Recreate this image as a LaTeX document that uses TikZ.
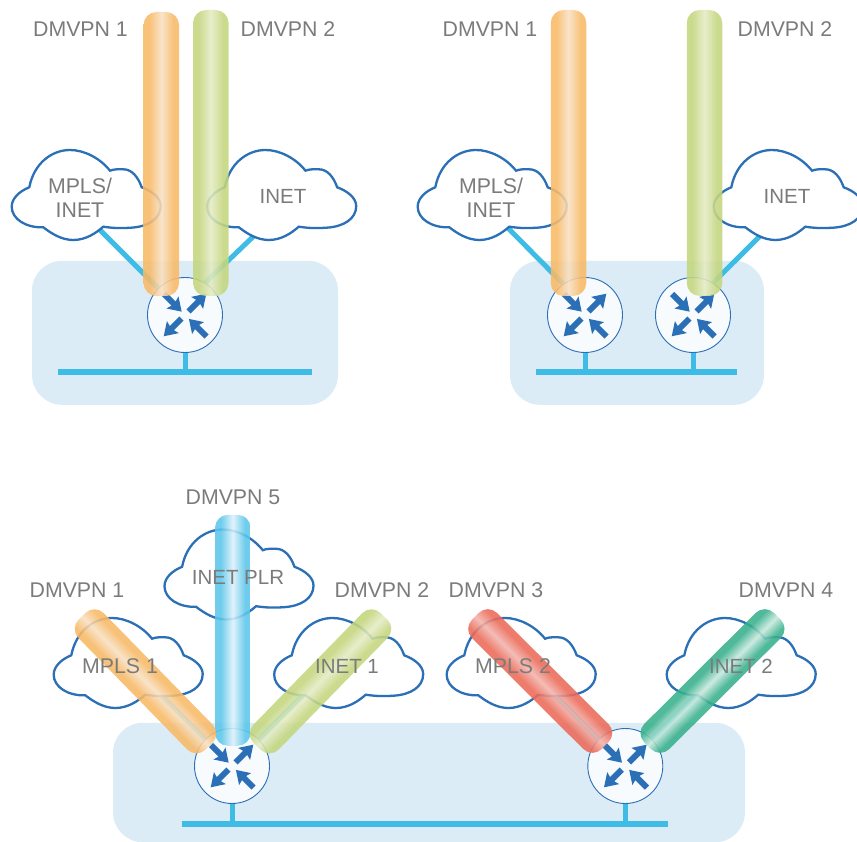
\documentclass[tikz,border=0pt]{standalone}
\usepackage{fontspec}
\setmainfont{Liberation Sans}
\definecolor{panelblue}{HTML}{DBECF6}
\definecolor{linkblue}{HTML}{3EBCE6}
\definecolor{cloudblue}{HTML}{2B6FB7}
\definecolor{routerfill}{HTML}{F8FBFD}
\definecolor{labelgray}{HTML}{7B7B7B}
\definecolor{orangeE}{HTML}{F8B966}
\definecolor{orangeM}{HTML}{F8E0C2}
\definecolor{greenE}{HTML}{C4D67E}
\definecolor{greenM}{HTML}{E4EBC4}
\definecolor{blueE}{HTML}{5CC6EA}
\definecolor{blueM}{HTML}{DDF1FA}
\definecolor{redE}{HTML}{EC6A58}
\definecolor{redM}{HTML}{F2B4AC}
\definecolor{tealE}{HTML}{38B08C}
\definecolor{tealM}{HTML}{C6E8DC}
\newcommand{\tubeshading}[1]{%
  \pgfdeclareverticalshading{tube#1}{100bp}{%
    color(0bp)=(#1E); color(25bp)=(#1E); color(33bp)=(#1E); color(50bp)=(#1M);
    color(67bp)=(#1E); color(75bp)=(#1E); color(100bp)=(#1E)}}
\tubeshading{orange}
\tubeshading{green}
\tubeshading{blue}
\tubeshading{red}
\tubeshading{teal}
\tikzset{
  panelbox/.style={draw=none,fill=panelblue,rectangle,rounded corners=30pt,inner sep=0pt},
  router/.style={circle,draw=cloudblue,line width=0.9pt,fill=routerfill,minimum size=75pt,inner sep=0pt},
  link/.style={draw=linkblue,line width=5pt},
  bus/.style={draw=linkblue,line width=6pt},
  lab/.style={text=labelgray,font=\fontsize{20.5}{24}\selectfont,inner sep=0pt,align=center},
  labwide/.style={lab,font=\fontsize{21.3}{24}\selectfont},
  tube/.style={rectangle,inner sep=0pt,minimum height=35.5pt,rounded corners=13pt,
     shading=tube#1,shading angle=0,opacity=0.88,draw=none},
  cloudshape/.pic={
    \path[draw=cloudblue,line width=2.3pt,fill=white]
     (-56.7,-7.7) .. controls (-52,-32) and (-34,-45) .. (-16,-45)
     .. controls (-2,-45) and (14,-37) .. (24,-24.3)
     .. controls (28,-26) and (32,-25.7) .. (37.3,-25.7)
     .. controls (46,-25.7) and (52,-18) .. (55.7,-7.7)
     .. controls (66,-4) and (74.7,3) .. (74.7,11)
     .. controls (74.7,24) and (62,31.7) .. (45,32.7)
     .. controls (35,33.3) and (28,33.3) .. (17.3,31.7)
     .. controls (10,38) and (0,45) .. (-12.7,45)
     .. controls (-24,45) and (-34,39) .. (-42.7,32.3)
     .. controls (-60,33) and (-74.3,24) .. (-74.3,11.7)
     .. controls (-74.3,3) and (-66,-4) .. (-56.7,-7.7) -- cycle;
  },
  arrowshape/.pic={
    \fill[cloudblue] (0,-3) -- (13.5,-3) -- (12,-8.5) -- (25,0) -- (12,8.5) -- (13.5,3) -- (0,3) -- cycle;
  },
  routerarrows/.pic={
    \pic[shift={(-21,-21)},rotate=-45] {arrowshape};
    \pic[shift={(3.6,-3.6)},rotate=45] {arrowshape};
    \pic[shift={(-3.6,3.6)},rotate=225] {arrowshape};
    \pic[shift={(21.6,21.6)},rotate=135] {arrowshape};
  },
}
% name, colour, length, centre x, centre y, angle
\newcommand{\tubepiece}[6]{%
  \begin{scope}[transform canvas={shift={(#4,#5)},rotate=#6}]
    \node[tube={#2},minimum width=#3pt] (#1) at (0,0) {};
  \end{scope}}
\begin{document}
\begin{tikzpicture}[x=1pt,y=-1pt]
\useasboundingbox (0,0) rectangle (857,842);
% panels
\node[panelbox,minimum width=306pt,minimum height=144pt] (p1) at (185,332.8) {};
\node[panelbox,minimum width=254pt,minimum height=144pt] (p2) at (637,332.8) {};
\node[panelbox,minimum width=632pt,minimum height=119.5pt] (p3) at (429,782.5) {};
% routers
\node[router] (r1) at (185,315) {};
\node[router] (r2) at (585,315) {};
\node[router] (r3) at (693,315) {};
\node[router] (r4) at (232,766) {};
\node[router] (r5) at (625.3,766) {};
% buses
\coordinate (b1l) at (58,372);  \coordinate (b1r) at (312,372);  \coordinate (b1s) at (185,372);
\coordinate (b2l) at (536,372); \coordinate (b2r) at (737,372);  \coordinate (b2s) at (585,372); \coordinate (b2t) at (693,372);
\coordinate (b3l) at (182,824); \coordinate (b3r) at (668,824);  \coordinate (b3s) at (232,824); \coordinate (b3t) at (625.3,824);
\draw[bus] (b1l) -- (b1r);
\draw[bus] (b2l) -- (b2r);
\draw[bus] (b3l) -- (b3r);
\draw[link] (r1) -- (b1s);
\draw[link] (r2) -- (b2s);
\draw[link] (r3) -- (b2t);
\draw[link] (r4) -- (b3s);
\draw[link] (r5) -- (b3t);
% cloud feet and links
\coordinate (f1) at (98,228);  \coordinate (f2) at (258,232);
\coordinate (f3) at (508,228); \coordinate (f4) at (762,234);
\coordinate (f5) at (152,686); \coordinate (f6) at (310,688);
\coordinate (f7) at (546,686); \coordinate (f8) at (703,688);
\draw[link] (f1) -- (r1);
\draw[link] (f2) -- (r1.58);
\draw[link] (f3) -- (r2.125);
\draw[link] (f4) -- (r3.58);
\draw[link] (f5) -- (r4);
\draw[link] (f6) -- (r4);
\draw[link] (f7) -- (r5);
\draw[link] (f8) -- (r5);
% router arrows
\foreach \r in {r1,r2,r3,r4,r5} \pic at (\r) {routerarrows};
% clouds
\pic at (86,195) {cloudshape};
\pic at (281.5,195) {cloudshape};
\pic at (492,195) {cloudshape};
\pic at (788,195) {cloudshape};
\pic at (238.8,574.5) {cloudshape};
\pic at (128,663) {cloudshape};
\pic at (348.5,663) {cloudshape};
\pic at (521,663) {cloudshape};
\pic at (741,663) {cloudshape};
% tubes
\tubepiece{t1}{orange}{284}{161.3}{154}{90}
\tubepiece{t2}{green}{286}{210.8}{153}{90}
\tubepiece{t3}{orange}{286}{568.5}{153}{90}
\tubepiece{t4}{green}{286}{704.5}{153}{90}
\tubepiece{t5}{blue}{231}{232.8}{630.3}{90}
\tubepiece{t6}{orange}{181.7}{145.5}{681.3}{-45.7}
\tubepiece{t7}{green}{181.7}{320.5}{681.3}{45.7}
\tubepiece{t8}{red}{183.2}{540.2}{681}{-44.9}
\tubepiece{t9}{teal}{183.2}{712.5}{681}{44.9}
% labels
\node[labwide] (d1) at (80.5,29) {DMVPN 1};
\node[labwide] (d2) at (288,29) {DMVPN 2};
\node[labwide] (d3) at (490,29) {DMVPN 1};
\node[labwide] (d4) at (785,29) {DMVPN 2};
\node[labwide] (d5) at (233,497) {DMVPN 5};
\node[labwide] (d6) at (77,590) {DMVPN 1};
\node[labwide] (d7) at (382,590) {DMVPN 2};
\node[labwide] (d8) at (496,590) {DMVPN 3};
\node[labwide] (d9) at (786,590) {DMVPN 4};
\node[labwide] (c1) at (80,198) {MPLS/\\INET};
\node[lab] (c2) at (283,196) {INET};
\node[labwide] (c3) at (491,198) {MPLS/\\INET};
\node[lab] (c4) at (787,196) {INET};
\node[lab] (c5) at (238,577) {INET PLR};
\node[labwide] (c6) at (120,666) {MPLS 1};
\node[lab] (c7) at (347,666) {INET 1};
\node[labwide] (c8) at (513,666) {MPLS 2};
\node[lab] (c9) at (741,666) {INET 2};
\end{tikzpicture}
\end{document}
